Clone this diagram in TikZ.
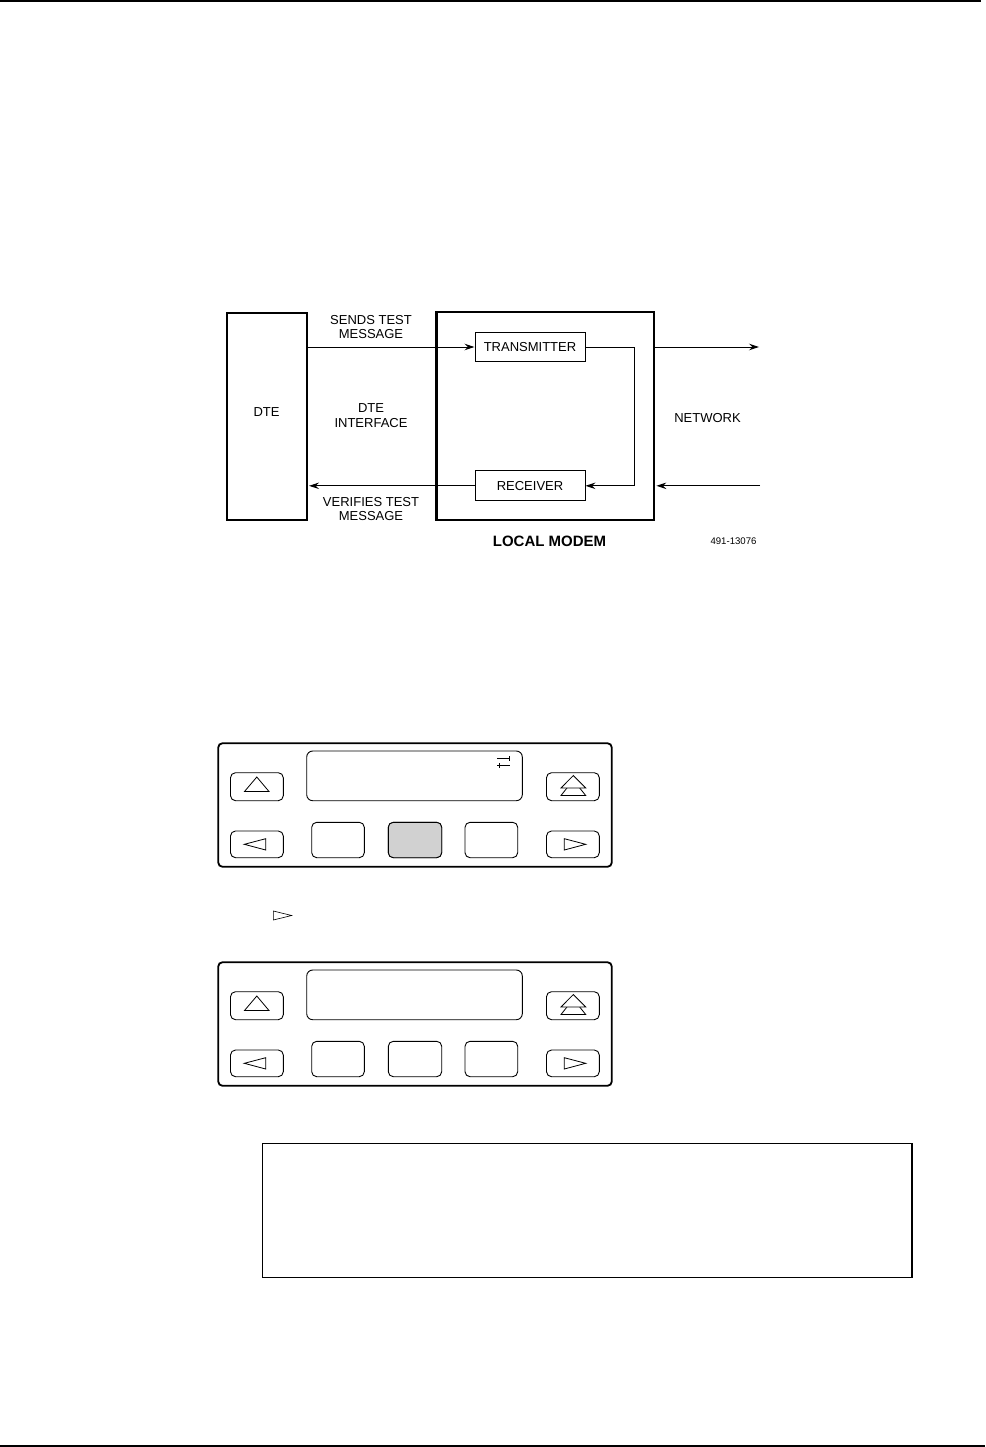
\documentclass[tikz,border=0pt]{standalone}
\usepackage{fontspec}
\setmainfont{Liberation Sans}
\usetikzlibrary{arrows.meta,calc}
\tikzset{
  bigbox/.style={draw, line width=2.3pt, inner sep=0pt},
  smallbox/.style={draw, line width=1pt, inner sep=0pt, font=\fontsize{13}{14.3}\selectfont},
  lbl/.style={align=center, inner sep=0pt, font=\fontsize{13}{14.3}\selectfont},
  arr/.style={line width=0.9pt, -{Stealth[length=10pt,width=6.5pt,inset=3.5pt]}},
  rule/.style={line width=2pt},
  panelouter/.style={draw, line width=1.8pt, rounded corners=4pt},
  key/.style={draw, line width=0.9pt, rounded corners=5pt},
  glyph/.style={draw, line width=0.8pt, line join=miter},
  pics/modempanel/.style={code={
    \draw[panelouter] (218.3,743.3) rectangle (611.7,866.7);
    \draw[key, rounded corners=6pt] (306.7,751) rectangle (522.3,800.7);
    \draw[key] (230.5,772.7) rectangle (283.3,800.7);
    \draw[key] (546.5,772.7) rectangle (599.3,800.7);
    \draw[key] (230.5,831) rectangle (283.3,857.7);
    \draw[key] (546.5,831) rectangle (599.3,857.7);
    \draw[key] (311.7,822.3) rectangle (364.3,857.7);
    \draw[key] (388.3,822.3) rectangle (441.7,857.7);
    \draw[key] (465,822.3) rectangle (517.7,857.7);
    \draw[glyph] (244.5,791.5) -- (256.8,777) -- (269,791.5) -- cycle;
    \draw[glyph, fill=white] (561,795.5) -- (573.3,780) -- (585.7,795.5) -- cycle;
    \draw[glyph, fill=white] (561,788) -- (573.3,775.5) -- (585.7,788) -- cycle;
    \draw[glyph] (265.7,838.7) -- (244.3,844.3) -- (265.7,850) -- cycle;
    \draw[glyph] (564.3,838.7) -- (585.7,844.3) -- (564.3,850) -- cycle;
  }}
}
\begin{document}
\begin{tikzpicture}[x=1pt, y=-1pt]
\useasboundingbox (0,0) rectangle (985,1447);
% page rules
\draw[rule] (0,1) -- (981,1);
\draw[rule] (0,1445.8) -- (985,1445.8);

% ---------- block diagram ----------
\node[bigbox, minimum width=79.4pt, minimum height=207pt] (dte) at (267,416.5) {};
\node[lbl] (dtetxt) at (266.5,411.7) {DTE};
\node[bigbox, minimum width=217.5pt, minimum height=208pt] (modem) at (545.3,416) {};
\node[smallbox, minimum width=110pt, minimum height=29.4pt] (tx) at (530,347) {TRANSMITTER};
\node[smallbox, minimum width=110pt, minimum height=29.7pt] (rx) at (530,485.8) {RECEIVER};

\coordinate (lp) at (634.3,416);
\coordinate (netout) at (759,347);
\coordinate (netin) at (760,485.8);

\draw[arr] (dte.east |- tx.west) -- (tx.west);
\draw[arr] (tx.east) -| (lp) |- (rx.east);
\draw[arr] (modem.east |- tx.east) -- (netout);
\draw[arr] (netin) -- ([xshift=1.2pt]modem.east |- rx.east);
\draw[arr] (rx.west) -- ([xshift=1.2pt]dte.east |- rx.west);

\node[lbl] (sends) at (371,326.7) {SENDS TEST\\MESSAGE};
\node[lbl] (dteif) at (371,415.5) {DTE\\INTERFACE};
\node[lbl] (network) at (707.5,418) {NETWORK};
\node[lbl] (verifies) at (371,509.3) {VERIFIES TEST\\MESSAGE};
\node[lbl, font=\fontsize{15}{16}\selectfont\bfseries] (localmodem) at (549.5,541.4) {LOCAL MODEM};
\node[lbl, font=\fontsize{9.6}{10}\selectfont] (fignum) at (733.5,540.8) {491-13076};

% ---------- front panel 1 ----------
\pic (p1) at (0,0) {modempanel};
\draw[key, fill=black!18] (388.3,822.3) rectangle (441.7,857.7);
\draw[line width=0.8pt] (497.3,758.7) -- (510,758.7);
\draw[line width=0.8pt] (509,756.2) -- (509,761.2);
\draw[line width=0.8pt] (497.3,765.3) -- (510,765.3);
\draw[line width=0.8pt] (499.8,762.8) -- (499.8,767.8);

% small right-pointing triangle
\draw[glyph, line width=0.6pt] (273.3,911) -- (291.7,915.5) -- (273.3,920) -- cycle;

% ---------- front panel 2 ----------
\pic (p2) at (0,219) {modempanel};

% ---------- empty box ----------
\draw[line width=1.5pt] (262.3,1143.3) rectangle (912,1277.3);
\end{tikzpicture}
\end{document}
